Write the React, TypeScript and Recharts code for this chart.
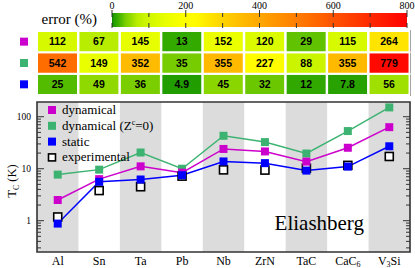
import React from 'react';
import {
  ComposedChart,
  BarChart,
  Bar,
  Line,
  XAxis,
  YAxis,
  ReferenceArea,
  Legend,
  Cell,
  LabelList,
} from 'recharts';

// ---------------- data ----------------
const categories = ['Al', 'Sn', 'Ta', 'Pb', 'Nb', 'ZrN', 'TaC', 'CaC6', 'V3Si'];

const tcDynamical = [2.5, 6.3, 11.1, 8.4, 24, 21.5, 13.7, 25.3, 63];
const tcDynamicalZ0 = [7.7, 9.6, 20.5, 10.0, 43, 32.5, 19.6, 53, 151];
const tcStatic = [0.88, 5.6, 6.2, 7.5, 13.8, 12.8, 9.2, 11.0, 27];
const tcExperimental = [1.18, 3.8, 4.5, 7.2, 9.5, 9.4, 10.2, 11.6, 17.2];

const errDynamical = [112, 67, 145, 13, 152, 120, 29, 115, 264];
const errDynamicalZ0 = [542, 149, 352, 35, 355, 227, 88, 355, 779];
const errStatic = [25, 49, 36, 4.9, 45, 32, 12, 7.8, 56];

const errTicks = [0, 100, 200, 300, 400, 500, 600, 700, 800];
const errLabelTicks = [0, 200, 400, 600, 800];
const yTicks = [0.3, 0.4, 0.5, 0.6, 0.7, 0.8, 0.9, 1, 2, 3, 4, 5, 6, 7, 8, 9, 10, 20, 30, 40, 50, 60, 70, 80, 90, 100];
const yMajorTicks = [1, 10, 100];

// colormap for error (%)
const COLOR_STOPS: [number, number[]][] = [
  [0, [10, 128, 0]],
  [5, [34, 158, 0]],
  [12, [48, 168, 0]],
  [28, [92, 192, 0]],
  [36, [122, 206, 0]],
  [50, [145, 218, 0]],
  [67, [184, 236, 0]],
  [90, [204, 245, 0]],
  [115, [216, 250, 0]],
  [150, [234, 255, 0]],
  [200, [255, 255, 0]],
  [230, [255, 250, 0]],
  [264, [255, 228, 0]],
  [355, [255, 186, 0]],
  [542, [255, 108, 0]],
  [800, [255, 0, 0]],
];

function errColor(v: number): string {
  for (let i = 0; i < COLOR_STOPS.length - 1; i++) {
    const [a, ca] = COLOR_STOPS[i];
    const [b, cb] = COLOR_STOPS[i + 1];
    if (v <= b) {
      const t = Math.max(0, (v - a) / (b - a));
      const c = ca.map((x, k) => Math.round(x + (cb[k] - x) * t));
      return `rgb(${c[0]},${c[1]},${c[2]})`;
    }
  }
  const c = COLOR_STOPS[COLOR_STOPS.length - 1][1];
  return `rgb(${c[0]},${c[1]},${c[2]})`;
}

// ---------------- styles ----------------
const SERIF = '"Liberation Serif", "Times New Roman", serif';
const SANS = '"Liberation Sans", Arial, sans-serif';
const C_DYN = '#cc00cc';
const C_DYNZ = '#3cb371';
const C_STAT = '#0000ff';
const BORDER = '#333';
const PL = 37;
const PR = 410;

const mainData = categories.map((cat, i) => ({
  cat,
  dyn: tcDynamical[i],
  dynZ: tcDynamicalZ0[i],
  stat: tcStatic[i],
  exp: tcExperimental[i],
}));

const tableData = categories.map((cat, i) => ({
  cat,
  eDyn: errDynamical[i],
  eDynZ: errDynamicalZ0[i],
  eStat: errStatic[i],
}));

const grayBands = categories.filter((_, i) => i % 2 === 0);

// split chemical formula digits into subscripts
function formulaParts(s: string) {
  const parts: { t: string; sub: boolean }[] = [];
  for (const ch of s) {
    const sub = /[0-9]/.test(ch);
    const last = parts[parts.length - 1];
    if (last && last.sub === sub) last.t += ch;
    else parts.push({ t: ch, sub });
  }
  return parts;
}

const CatTick = (props: any) => {
  const { x, payload } = props;
  const parts = formulaParts(String(payload.value));
  let shifted = false;
  return (
    <text x={x} y={265} textAnchor="middle" fontSize={12} fontFamily={SERIF} fill="#000">
      {parts.map((p, i) => {
        let dy = 0;
        if (p.sub && !shifted) { dy = 2; shifted = true; }
        else if (!p.sub && shifted) { dy = -2; shifted = false; }
        return (
          <tspan key={i} dy={dy} fontSize={p.sub ? 8 : 12}>
            {p.t}
          </tspan>
        );
      })}
    </text>
  );
};

const LogTick = (props: any) => {
  const { y, payload } = props;
  const v = payload.value;
  const major = yMajorTicks.includes(v);
  const len = major ? 7 : 4;
  return (
    <g>
      <line x1={PL} x2={PL + len} y1={y} y2={y} stroke={BORDER} strokeWidth={1} />
      <line x1={PR} x2={PR - len} y1={y} y2={y} stroke={BORDER} strokeWidth={1} />
      {major && (
        <text x={PL - 6} y={y + 3} textAnchor="end" fontSize={9.5} fontFamily={SERIF} fill="#000">
          {v}
        </text>
      )}
    </g>
  );
};

const squareDot = (color: string, size: number) => (p: any) => {
  if (p.cx == null || p.cy == null) return <g key={p.index} />;
  return (
    <rect
      key={p.index}
      x={p.cx - size / 2}
      y={p.cy - size / 2}
      width={size}
      height={size}
      fill={color}
    />
  );
};

const hollowDot = (p: any) => {
  if (p.cx == null || p.cy == null) return <g key={p.index} />;
  return (
    <rect
      key={p.index}
      x={p.cx - 4}
      y={p.cy - 4}
      width={8}
      height={8}
      fill="#fff"
      stroke="#000"
      strokeWidth={1.6}
    />
  );
};

const legendItems = [
  { label: 'dynamical', color: C_DYN },
  { label: 'dynZ', color: C_DYNZ },
  { label: 'static', color: C_STAT },
  { label: 'experimental', color: null },
];

const LegendBox = () => (
  <svg width={150} height={66} style={{ display: 'block' }}>
    {legendItems.map((it, i) => {
      const cy = 8 + i * 15.8;
      return (
        <g key={i}>
          {it.color ? (
            <rect x={2} y={cy - 4} width={8} height={8} fill={it.color} />
          ) : (
            <rect x={2.5} y={cy - 3.5} width={7} height={7} fill="#fff" stroke="#000" strokeWidth={1.6} />
          )}
          <text x={16} y={cy + 4} fontSize={13} fontFamily={SERIF} fill="#000">
            {it.label === 'dynZ' ? (
              <>
                <tspan>dynamical (Z</tspan>
                <tspan fontSize={8} dy={-5}>c</tspan>
                <tspan dy={5}>=0)</tspan>
              </>
            ) : (
              it.label
            )}
          </text>
        </g>
      );
    })}
  </svg>
);

const YLabel = () => (
  <text x={16} y={181} transform="rotate(-90,16,181)" textAnchor="middle" fontSize={12.5} fontFamily={SERIF} fill="#000">
    <tspan>T</tspan>
    <tspan fontSize={8} dy={3}>C</tspan>
    <tspan dy={-3}> (K)</tspan>
  </text>
);

const EliashbergLabel = (p: any) => {
  const vb = p.viewBox || { x: PL, y: 102, width: 373, height: 150 };
  return (
    <text
      x={vb.x + vb.width - 46}
      y={vb.y + vb.height - 22}
      textAnchor="end"
      fontSize={21}
      fontFamily={SERIF}
      fill="#000"
    >
      Eliashberg
    </text>
  );
};

const ErrTick = (props: any) => {
  const { x, payload } = props;
  const v = payload.value;
  const major = errLabelTicks.includes(v);
  return (
    <g>
      {major && (
        <text x={x} y={9} textAnchor="middle" fontSize={10} fontFamily={SERIF} fill="#000">
          {v}
        </text>
      )}
      <line x1={x} x2={x} y1={major ? 10 : 13} y2={17} stroke={BORDER} strokeWidth={1} />
      <line x1={x} x2={x} y1={23} y2={28} stroke={BORDER} strokeWidth={1} />
    </g>
  );
};

const ErrLabelTick = (props: any) => {
  const { y, payload } = props;
  return (
    <text x={97} y={y + 3.5} textAnchor="end" fontSize={15} fontFamily={SERIF} fill="#000">
      {payload.value}
    </text>
  );
};

const rowColors: Record<string, string> = { '0.5': C_STAT, '1.5': C_DYNZ, '2.5': C_DYN };
const RowMarker = (props: any) => {
  const { y, payload } = props;
  const c = rowColors[String(payload.value)];
  return <rect x={20} y={y - 4} width={8} height={8} fill={c} />;
};

const tableLabelProps = {
  position: 'center' as const,
  fill: '#000',
  fontSize: 10.5,
  fontWeight: 'bold',
  fontFamily: SANS,
};

export default function App() {
  return (
    <div style={{ position: 'absolute', left: 0, top: 0, width: 415, height: 268, background: '#fff' }}>
      {/* colour bar */}
      <div style={{ position: 'absolute', left: 0, top: 0 }}>
        <BarChart
          width={415}
          height={30}
          layout="vertical"
          data={[{ name: 'error (%)', span: 800 }]}
          margin={{ top: 12, right: 8, bottom: 3, left: 0 }}
          barCategoryGap={0}
        >
          <defs>
            <linearGradient id="errGrad" x1="0" y1="0" x2="1" y2="0">
              {COLOR_STOPS.map(([v, c], i) => (
                <stop key={i} offset={`${(v / 800) * 100}%`} stopColor={`rgb(${c[0]},${c[1]},${c[2]})`} />
              ))}
            </linearGradient>
          </defs>
          <Bar dataKey="span" fill="url(#errGrad)" isAnimationActive={false} />
          <XAxis
            type="number"
            orientation="top"
            domain={[0, 800]}
            ticks={errTicks}
            interval={0}
            height={1}
            axisLine={false}
            tickLine={false}
            tick={<ErrTick />}
          />
          <YAxis
            type="category"
            dataKey="name"
            width={112}
            axisLine={false}
            tickLine={false}
            tick={<ErrLabelTick />}
          />
        </BarChart>
      </div>

      {/* error table */}
      <div style={{ position: 'absolute', left: 0, top: 0 }}>
        <BarChart
          width={415}
          height={96}
          data={tableData}
          margin={{ top: 31, right: 5, bottom: 1, left: 0 }}
          barCategoryGap={0}
          barGap={0}
        >
          <XAxis dataKey="cat" hide />
          <YAxis
            type="number"
            domain={[0, 3]}
            ticks={[0.5, 1.5, 2.5]}
            interval={0}
            width={37}
            axisLine={false}
            tickLine={false}
            tick={<RowMarker />}
          />
          <Bar dataKey={() => 1} stackId="t" stroke="#fff" strokeWidth={2} isAnimationActive={false}>
            {errStatic.map((e, i) => (
              <Cell key={i} fill={errColor(e)} />
            ))}
            <LabelList dataKey="eStat" {...tableLabelProps} />
          </Bar>
          <Bar dataKey={() => 1} stackId="t" stroke="#fff" strokeWidth={2} isAnimationActive={false}>
            {errDynamicalZ0.map((e, i) => (
              <Cell key={i} fill={errColor(e)} />
            ))}
            <LabelList dataKey="eDynZ" {...tableLabelProps} />
          </Bar>
          <Bar dataKey={() => 1} stackId="t" stroke="#fff" strokeWidth={2} isAnimationActive={false}>
            {errDynamical.map((e, i) => (
              <Cell key={i} fill={errColor(e)} />
            ))}
            <LabelList dataKey="eDyn" {...tableLabelProps} />
          </Bar>
          <ReferenceArea x1="Al" x2="V3Si" fill="none" stroke={BORDER} strokeWidth={2} ifOverflow="visible" />
        </BarChart>
      </div>

      {/* Tc chart */}
      <div style={{ position: 'absolute', left: 0, top: 0 }}>
        <ComposedChart
          width={415}
          height={268}
          data={mainData}
          margin={{ top: 102, right: 5, bottom: 0, left: 0 }}
        >
          {grayBands.map((c) => (
            <ReferenceArea key={c} x1={c} x2={c} fill="#dcdcdc" fillOpacity={1} stroke="none" ifOverflow="visible" />
          ))}
          <ReferenceArea
            x1="Al"
            x2="V3Si"
            fill="none"
            stroke={BORDER}
            strokeWidth={1.6}
            ifOverflow="visible"
            label={(p: any) => <EliashbergLabel {...p} />}
          />
          <XAxis
            dataKey="cat"
            type="category"
            scale="band"
            height={16}
            interval={0}
            axisLine={false}
            tickLine={false}
            tick={<CatTick />}
          />
          <YAxis
            type="number"
            scale="log"
            domain={[0.25, 192]}
            allowDataOverflow
            ticks={yTicks}
            interval={0}
            width={37}
            axisLine={false}
            tickLine={false}
            tick={<LogTick />}
            label={() => <YLabel />}
          />
          <Line dataKey="exp" stroke="none" dot={hollowDot} activeDot={false} isAnimationActive={false} />
          <Line dataKey="dynZ" stroke={C_DYNZ} strokeWidth={1.5} dot={squareDot(C_DYNZ, 8)} activeDot={false} isAnimationActive={false} />
          <Line dataKey="dyn" stroke={C_DYN} strokeWidth={1.5} dot={squareDot(C_DYN, 8)} activeDot={false} isAnimationActive={false} />
          <Line dataKey="stat" stroke={C_STAT} strokeWidth={1.5} dot={squareDot(C_STAT, 8)} activeDot={false} isAnimationActive={false} />
          <Legend
            layout="vertical"
            align="center"
            verticalAlign="middle"
            wrapperStyle={{ left: 46, top: 102, width: 150, height: 66 }}
            content={() => <LegendBox />}
          />
        </ComposedChart>
      </div>
    </div>
  );
}
